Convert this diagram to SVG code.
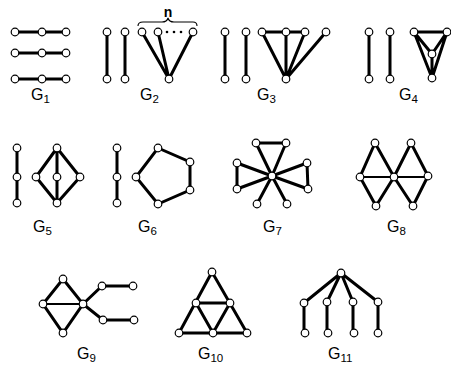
<svg xmlns="http://www.w3.org/2000/svg" width="451" height="371" viewBox="0 0 451 371">
<style>
.e{stroke:#000;stroke-width:3;stroke-linecap:round;fill:none}
.t{stroke-width:2}
circle.n{fill:#fff;stroke:#000;stroke-width:1.2}
text{font-family:"Liberation Sans","DejaVu Sans",sans-serif;font-size:16px;fill:#000}
.s{font-size:11.5px}
</style>
<rect width="451" height="371" fill="#fff"/>
<g id="connectors">
<!-- G1 -->
<path class="e" d="M15 32H66M15 53H66M15 79H66"/>
<!-- G2 -->
<path class="e" d="M107 32V79M125 32V79M142 32L169 79M158 32L169 79M193 32L169 79"/>
<!-- G3 -->
<path class="e" d="M225 32V79M246 32V79M262 32H305M262 32L286 79M286 32L286 79M305 32L286 79M326 32L286 79"/>
<!-- G4 -->
<path class="e" d="M369 32V79M390 32V79M414 32H447M414 32L432 54M447 32L432 54M432 54L432 78M414 32L432 78M447 32L432 78"/>
<!-- G5 -->
<path class="e" d="M17 148V203M57 148L36 177M57 148L57 203M57 148L80 177M36 177L57 203M80 177L57 203"/>
<!-- G6 -->
<path class="e" d="M117 148V203M158 148L190 162L190 190L158 204L136 177Z"/>
<!-- G7 -->
<path class="e" d="M256 143H286M237 163V189M307 163L308 189M272 176L256 143M272 176L286 143M272 176L237 163M272 176L237 189M272 176L307 163M272 176L308 189M272 176L257 204M272 176L287 204"/>
<!-- G8 -->
<path class="e" d="M375 143L360 177L376 206L394 177L375 143M394 177L411 143L428 176L413 206L394 177"/>
<path class="e t" d="M360 177H428"/>
<!-- G9 -->
<path class="e" d="M63 279L43 304L63 333L83 304L63 279M83 304L102 286H133M83 304L103 320H134"/>
<path class="e t" d="M43 304H83"/>
<!-- G10 -->
<path class="e" d="M212 272L179 333H247Z M196 303H230 M196 303L213 333L230 303"/>
<!-- G11 -->
<path class="e" d="M341 273L304 303M341 273L327 302M341 273L353 302M341 273L378 302M304 303V333M327 302V333M353 302V333M378 302V333"/>
</g>
<g id="brace">
<path d="M138 26Q138 22 143 22H162Q167 22 168 18Q169 22 174 22H193Q197 22 197 26" fill="none" stroke="#000" stroke-width="1.1"/>
<text x="168" y="17" text-anchor="middle" style="font-size:14px;font-weight:bold">n</text>
</g>
<g id="G1">
<circle class="n" cx="15" cy="32" r="3.8"/><circle class="n" cx="42" cy="32" r="3.8"/><circle class="n" cx="66" cy="32" r="3.8"/>
<circle class="n" cx="15" cy="53" r="3.8"/><circle class="n" cx="42" cy="53" r="3.8"/><circle class="n" cx="66" cy="53" r="3.8"/>
<circle class="n" cx="15" cy="79" r="3.8"/><circle class="n" cx="42" cy="79" r="3.8"/><circle class="n" cx="66" cy="79" r="3.8"/>
<text x="31" y="100">G<tspan class="s" dy="3">1</tspan></text>
</g>
<g id="G2">
<circle class="n" cx="107" cy="32" r="3.8"/><circle class="n" cx="107" cy="79" r="3.8"/>
<circle class="n" cx="125" cy="32" r="3.8"/><circle class="n" cx="125" cy="79" r="3.8"/>
<circle class="n" cx="142" cy="32" r="3.8"/><circle class="n" cx="158" cy="32" r="3.8"/><circle class="n" cx="193" cy="32" r="3.8"/>
<circle class="n" cx="169" cy="79" r="3.8"/>
<circle cx="167" cy="32" r="1.3"/><circle cx="174" cy="32" r="1.3"/><circle cx="181" cy="32" r="1.3"/>
<text x="140" y="100">G<tspan class="s" dy="3">2</tspan></text>
</g>
<g id="G3">
<circle class="n" cx="225" cy="32" r="3.8"/><circle class="n" cx="225" cy="79" r="3.8"/>
<circle class="n" cx="246" cy="32" r="3.8"/><circle class="n" cx="246" cy="79" r="3.8"/>
<circle class="n" cx="262" cy="32" r="3.8"/><circle class="n" cx="286" cy="32" r="3.8"/><circle class="n" cx="305" cy="32" r="3.8"/><circle class="n" cx="326" cy="32" r="3.8"/>
<circle class="n" cx="286" cy="79" r="3.8"/>
<text x="257" y="100">G<tspan class="s" dy="3">3</tspan></text>
</g>
<g id="G4">
<circle class="n" cx="369" cy="32" r="3.8"/><circle class="n" cx="369" cy="79" r="3.8"/>
<circle class="n" cx="390" cy="32" r="3.8"/><circle class="n" cx="390" cy="79" r="3.8"/>
<circle class="n" cx="414" cy="32" r="3.8"/><circle class="n" cx="447" cy="32" r="3.8"/>
<circle class="n" cx="432" cy="54" r="3.8"/><circle class="n" cx="432" cy="78" r="3.8"/>
<text x="399" y="100">G<tspan class="s" dy="3">4</tspan></text>
</g>
<g id="G5">
<circle class="n" cx="17" cy="148" r="3.8"/><circle class="n" cx="17" cy="177" r="3.8"/><circle class="n" cx="17" cy="203" r="3.8"/>
<circle class="n" cx="57" cy="148" r="3.8"/><circle class="n" cx="36" cy="177" r="3.8"/><circle class="n" cx="57" cy="177" r="3.8"/><circle class="n" cx="80" cy="177" r="3.8"/><circle class="n" cx="57" cy="203" r="3.8"/>
<text x="33" y="232">G<tspan class="s" dy="3">5</tspan></text>
</g>
<g id="G6">
<circle class="n" cx="117" cy="148" r="3.8"/><circle class="n" cx="117" cy="177" r="3.8"/><circle class="n" cx="117" cy="203" r="3.8"/>
<circle class="n" cx="158" cy="148" r="3.8"/><circle class="n" cx="190" cy="162" r="3.8"/><circle class="n" cx="190" cy="190" r="3.8"/><circle class="n" cx="158" cy="204" r="3.8"/><circle class="n" cx="136" cy="177" r="3.8"/>
<text x="138" y="232">G<tspan class="s" dy="3">6</tspan></text>
</g>
<g id="G7">
<circle class="n" cx="256" cy="143" r="3.8"/><circle class="n" cx="286" cy="143" r="3.8"/>
<circle class="n" cx="237" cy="163" r="3.8"/><circle class="n" cx="237" cy="189" r="3.8"/>
<circle class="n" cx="307" cy="163" r="3.8"/><circle class="n" cx="308" cy="189" r="3.8"/>
<circle class="n" cx="257" cy="204" r="3.8"/><circle class="n" cx="287" cy="204" r="3.8"/>
<circle class="n" cx="272" cy="176" r="3.8"/>
<text x="263" y="232">G<tspan class="s" dy="3">7</tspan></text>
</g>
<g id="G8">
<circle class="n" cx="375" cy="143" r="3.8"/><circle class="n" cx="411" cy="143" r="3.8"/>
<circle class="n" cx="360" cy="177" r="3.8"/><circle class="n" cx="394" cy="177" r="3.8"/><circle class="n" cx="428" cy="176" r="3.8"/>
<circle class="n" cx="376" cy="206" r="3.8"/><circle class="n" cx="413" cy="206" r="3.8"/>
<text x="387" y="232">G<tspan class="s" dy="3">8</tspan></text>
</g>
<g id="G9">
<circle class="n" cx="63" cy="279" r="3.8"/><circle class="n" cx="43" cy="304" r="3.8"/><circle class="n" cx="83" cy="304" r="3.8"/><circle class="n" cx="63" cy="333" r="3.8"/>
<circle class="n" cx="102" cy="286" r="3.8"/><circle class="n" cx="133" cy="286" r="3.8"/>
<circle class="n" cx="103" cy="320" r="3.8"/><circle class="n" cx="134" cy="320" r="3.8"/>
<text x="77" y="359">G<tspan class="s" dy="3">9</tspan></text>
</g>
<g id="G10">
<circle class="n" cx="212" cy="272" r="3.8"/>
<circle class="n" cx="196" cy="303" r="3.8"/><circle class="n" cx="230" cy="303" r="3.8"/>
<circle class="n" cx="179" cy="333" r="3.8"/><circle class="n" cx="213" cy="333" r="3.8"/><circle class="n" cx="247" cy="333" r="3.8"/>
<text x="198" y="359">G<tspan class="s" dy="3">10</tspan></text>
</g>
<g id="G11">
<circle class="n" cx="341" cy="273" r="3.8"/>
<circle class="n" cx="304" cy="303" r="3.8"/><circle class="n" cx="327" cy="302" r="3.8"/><circle class="n" cx="353" cy="302" r="3.8"/><circle class="n" cx="378" cy="302" r="3.8"/>
<circle class="n" cx="305" cy="333" r="3.8"/><circle class="n" cx="328" cy="333" r="3.8"/><circle class="n" cx="354" cy="333" r="3.8"/><circle class="n" cx="378" cy="333" r="3.8"/>
<text x="328" y="359">G<tspan class="s" dy="3">11</tspan></text>
</g>
</svg>
